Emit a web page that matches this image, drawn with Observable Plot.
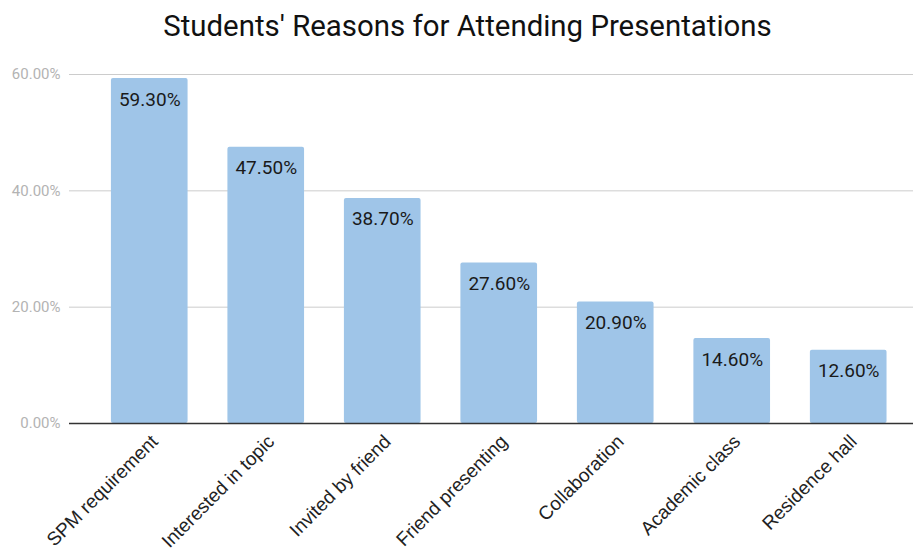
<!DOCTYPE html>
<html>
<head>
<meta charset="utf-8">
<script src="https://cdn.jsdelivr.net/npm/d3@7"></script>
<script src="https://cdn.jsdelivr.net/npm/@observablehq/plot@0.6"></script>
<style>
  html, body { margin: 0; padding: 0; background: #fff; }
  #title { height: 46px; line-height: 46px; font-family: Roboto, sans-serif; font-size: 29.4px; color: #111; text-align: center; padding-left: 22px; box-sizing: border-box; width: 913px; white-space: nowrap; position: relative; top: 0; }
  #title span { position: relative; top: 3px; }
  svg { display: block; }
</style>
</head>
<body>
<div id="title"><span>Students' Reasons for Attending Presentations</span></div>
<div id="chart"></div>
<script>
const categories = ["SPM requirement", "Interested in topic", "Invited by friend", "Friend presenting", "Collaboration", "Academic class", "Residence hall"];
const values = [59.3, 47.5, 38.7, 27.6, 20.9, 14.6, 12.6];
const yTicks = [0, 20, 40, 60];

const data = categories.map((c, i) => ({category: c, value: values[i]}));
const fmt = d => d.toFixed(2) + "%";

const chart = Plot.plot({
  width: 913,
  height: 508,
  marginTop: 28,
  marginBottom: 131,
  marginLeft: 69,
  marginRight: 0,
  x: {domain: categories, paddingInner: 0.342, paddingOuter: 0.2935, align: 0.613, round: false, label: null},
  y: {domain: [0, 60], label: null},
  marks: [
    Plot.ruleY(yTicks.filter(d => d > 0), {stroke: "#cccccc", strokeWidth: 1}),
    Plot.barY(data, {x: "category", y: "value", fill: "#9fc5e8", rx: 2}),
    Plot.ruleY([0], {stroke: "#333333", strokeWidth: 1.5}),
    Plot.text(data, {x: "category", y: "value", text: d => fmt(d.value), dy: 21, fontSize: 19, fontFamily: "Roboto", fill: "#1a1a1a"}),
    Plot.axisY({ticks: yTicks, tickFormat: fmt, tickSize: 0, tickPadding: 9, fontSize: 15, fontFamily: "Roboto", color: "#b3b3b3", label: null}),
    Plot.axisX({tickRotate: -45, tickSize: 0, tickPadding: 15, dx: 5, fontSize: 19, fontFamily: "Liberation Sans, Arial", color: "#222", label: null})
  ]
});
document.getElementById("chart").appendChild(chart);
</script>
</body>
</html>
